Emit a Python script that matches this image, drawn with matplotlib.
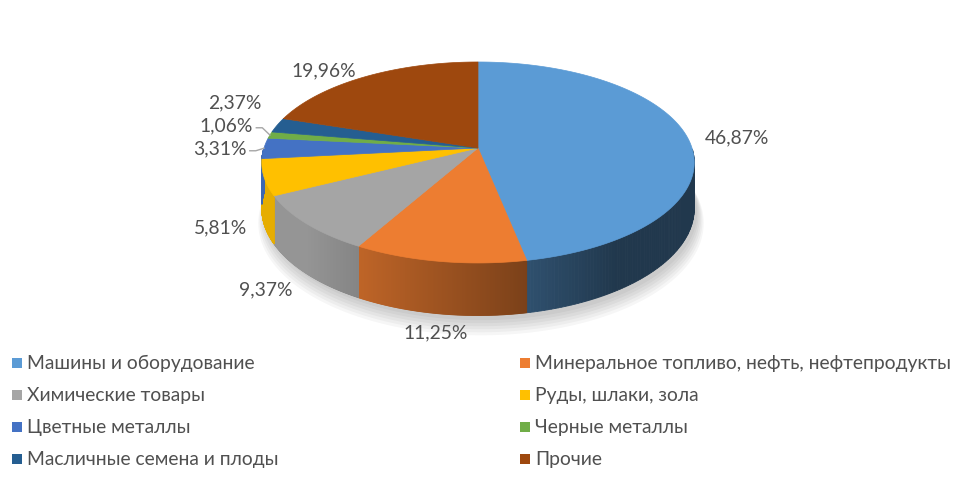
import numpy as np
import matplotlib
matplotlib.use("Agg")
import matplotlib.pyplot as plt
from matplotlib.patches import Polygon, Rectangle
from matplotlib.colors import to_rgb

# data
categories = [
    "Машины и оборудование",
    "Минеральное топливо, нефть, нефтепродукты",
    "Химические товары",
    "Руды, шлаки, зола",
    "Цветные металлы",
    "Черные металлы",
    "Масличные семена и плоды",
    "Прочие",
]
shares = [46.87, 11.25, 9.37, 5.81, 3.31, 1.06, 2.37, 19.96]
colors = ["#5B9BD5", "#ED7D31", "#A5A5A5", "#FFC000",
          "#4472C4", "#70AD47", "#255E91", "#9E480E"]
leader_slices = ["Цветные металлы", "Черные металлы"]

plt.rcParams['font.family'] = ['Lato', 'DejaVu Sans']
text_color = "#505050"
fsize = 13.9

# pie geometry in pixel units
cx, cy = 478, 148
a, b = 214, 98.4
persp = 0.144
depth = 45


def project(theta, r=1.0, h=0.0):
    s, c = np.sin(theta), np.cos(theta)
    w = 1 + persp * s
    x = cx + a * r * c / w
    y = cy - b * r * s / w + h / w
    return x, y


def darker(col, k):
    return tuple(np.clip(np.array(to_rgb(col)) * k, 0, 1))


fig = plt.figure(figsize=(9.78, 4.83), dpi=100)
ax = fig.add_axes([0, 0, 1, 1])
ax.set_xlim(0, 978)
ax.set_ylim(483, 0)
ax.axis("off")

vals = np.array(shares)
cum = np.concatenate([[0], np.cumsum(vals) / vals.sum()])
starts = np.deg2rad(90 - 360 * cum[:-1])
ends = np.deg2rad(90 - 360 * cum[1:])

# soft shadow under the pie
full = np.linspace(0, 2 * np.pi, 400)
for k in range(6):
    sx, sy = project(full, 1.0 + 0.006 * k, depth + 4 + 2 * k)
    ax.add_patch(Polygon(np.column_stack([sx + 3, sy]), closed=True,
                         facecolor="black", alpha=0.035, lw=0, zorder=1))

# side walls (front half only), lit from the left
for t0, t1, col in zip(starts, ends, colors):
    th = np.linspace(t0, t1, 200)
    front = np.sin(th) <= 0
    if not front.any():
        continue
    th = th[front]
    for j in range(len(th) - 1):
        seg = np.array([th[j], th[j + 1]])
        x1, y1 = project(seg)
        x2, y2 = project(seg, h=depth)
        shade = np.clip(0.6 - 0.42 * np.cos(seg.mean()), 0.36, 0.9)
        ax.add_patch(Polygon(np.column_stack([np.r_[x1, x2[::-1]], np.r_[y1, y2[::-1]]]),
                             closed=True, facecolor=darker(col, shade),
                             edgecolor=darker(col, shade), lw=0.6, zorder=2))

# top faces
for t0, t1, col in zip(starts, ends, colors):
    th = np.linspace(t0, t1, 200)
    x, y = project(th)
    ax.add_patch(Polygon(np.column_stack([np.r_[cx, x], np.r_[cy, y]]), closed=True,
                         facecolor=col, edgecolor=col, lw=0.5, zorder=3))

# data labels
mids = (starts + ends) / 2
f = 1.08
labels = []
for name, v, m in zip(categories, shares, mids):
    s, c = np.sin(m), np.cos(m)
    x, y = project(m, f)
    y += (depth / (1 + persp * s) + 10) * np.clip(-s * 3, 0, 1)
    ha = "right" if c < -0.35 else ("left" if c > 0.35 else "center")
    labels.append([name, v, m, x, y, ha])

# push crowded left-side labels apart
left = sorted([l for l in labels if l[5] == "right"], key=lambda l: -l[4])
for i in range(1, len(left)):
    if left[i - 1][4] - left[i][4] < 23:
        left[i][4] = left[i - 1][4] - 23

for name, v, m, x, y, ha in labels:
    ax.text(x, y, f"{v:.2f}%".replace(".", ","), ha=ha, va="center",
            fontsize=fsize, color=text_color, zorder=5)
    if name in leader_slices:
        ex, ey = project(m, 1.0)
        ax.plot([x + 3, x + 9, ex], [y + 2, y + 2, ey], color="#A6A6A6", lw=1, zorder=4)

# legend, two columns filled row by row
for i, (name, col) in enumerate(zip(categories, colors)):
    lx = 12 if i % 2 == 0 else 520
    ly = 363 + 32 * (i // 2)
    ax.add_patch(Rectangle((lx, ly - 5), 10, 10, facecolor=col, edgecolor="none"))
    ax.text(lx + 15, ly, name, ha="left", va="center", fontsize=fsize, color=text_color)

fig.savefig("out.png", dpi=100)
